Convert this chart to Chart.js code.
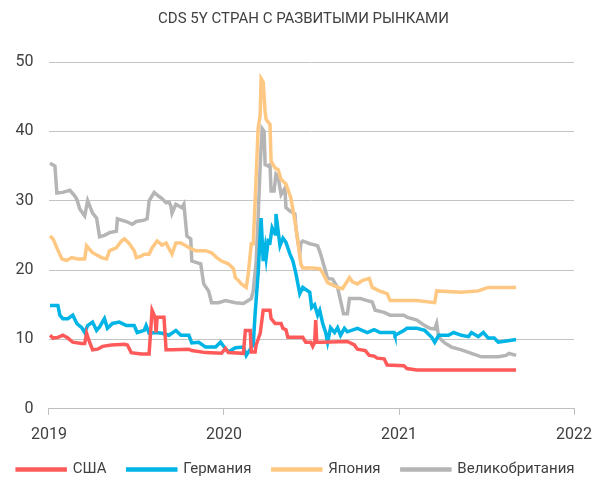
<!DOCTYPE html>
<html>
<head>
<meta charset="utf-8">
<script src="https://cdn.jsdelivr.net/npm/chart.js@4/dist/chart.umd.min.js"></script>
<style>
  html, body { margin: 0; padding: 0; background: #fff; overflow: hidden; }
  #wrap { width: 603px; height: 479px; overflow: hidden; }
</style>
</head>
<body>
<div id="wrap"><canvas id="chart" width="603" height="487"></canvas></div>
<script>
// values, x = decimal year
const seriesNames = ['США', 'Германия', 'Япония', 'Великобритания'];

const usa = [[2019.006,10.6],[2019.023,10.2],[2019.051,10.3],[2019.079,10.6],[2019.108,10.2],[2019.136,9.6],[2019.187,9.4],[2019.204,9.4],[2019.215,10.9],[2019.232,9.6],[2019.249,8.5],[2019.278,8.6],[2019.306,9.0],[2019.357,9.2],[2019.431,9.3],[2019.448,9.2],[2019.470,8.1],[2019.527,7.9],[2019.572,7.9],[2019.584,12.3],[2019.589,14.2],[2019.606,13.2],[2019.612,11.0],[2019.618,13.2],[2019.657,13.2],[2019.669,8.5],[2019.703,8.5],[2019.799,8.6],[2019.816,8.4],[2019.895,8.1],[2019.986,8.0],[2020.008,8.7],[2020.025,8.1],[2020.111,8.0],[2020.122,11.3],[2020.150,11.3],[2020.156,8.2],[2020.178,8.2],[2020.184,9.2],[2020.207,10.9],[2020.224,14.2],[2020.263,14.2],[2020.269,13.0],[2020.292,12.3],[2020.326,12.3],[2020.337,11.6],[2020.354,11.4],[2020.365,10.3],[2020.450,10.3],[2020.467,9.6],[2020.496,9.6],[2020.507,9.0],[2020.518,9.6],[2020.524,12.8],[2020.530,9.6],[2020.552,9.6],[2020.705,9.7],[2020.745,9.2],[2020.762,8.6],[2020.807,8.4],[2020.830,7.7],[2020.858,7.6],[2020.875,7.3],[2020.915,7.2],[2020.932,6.3],[2021.028,6.2],[2021.045,5.8],[2021.102,5.6],[2021.669,5.6]];

const germany = [[2019.006,14.9],[2019.051,14.9],[2019.062,13.5],[2019.079,13.0],[2019.108,13.0],[2019.136,13.5],[2019.159,12.3],[2019.187,11.7],[2019.204,11.0],[2019.221,12.0],[2019.249,12.5],[2019.272,11.3],[2019.289,11.8],[2019.317,13.0],[2019.334,11.6],[2019.363,12.3],[2019.402,12.5],[2019.442,12.0],[2019.487,12.0],[2019.504,11.0],[2019.544,11.3],[2019.555,12.0],[2019.572,10.9],[2019.612,11.0],[2019.646,10.9],[2019.686,10.6],[2019.725,11.3],[2019.754,10.6],[2019.799,10.6],[2019.816,9.5],[2019.856,9.6],[2019.895,8.9],[2019.952,8.9],[2019.980,9.6],[2020.008,8.7],[2020.025,8.2],[2020.065,8.8],[2020.111,8.9],[2020.127,7.7],[2020.150,8.6],[2020.167,9.2],[2020.178,13.8],[2020.195,19.5],[2020.212,27.5],[2020.224,21.3],[2020.235,23.2],[2020.241,21.8],[2020.252,24.2],[2020.263,24.0],[2020.275,26.1],[2020.292,25.2],[2020.297,28.1],[2020.320,23.5],[2020.337,24.6],[2020.354,24.0],[2020.377,22.3],[2020.394,21.3],[2020.411,19.5],[2020.433,16.6],[2020.450,17.5],[2020.467,17.2],[2020.490,16.8],[2020.501,14.6],[2020.518,15.0],[2020.535,13.5],[2020.547,14.2],[2020.564,12.3],[2020.581,11.0],[2020.592,9.6],[2020.609,11.7],[2020.632,11.0],[2020.649,11.7],[2020.666,10.6],[2020.688,11.6],[2020.705,11.1],[2020.762,11.6],[2020.819,11.0],[2020.858,11.4],[2020.892,11.0],[2020.972,11.0],[2020.977,10.6],[2021.028,11.3],[2021.045,11.6],[2021.102,11.6],[2021.147,11.3],[2021.187,10.3],[2021.204,9.6],[2021.227,10.6],[2021.283,10.6],[2021.312,11.0],[2021.357,10.6],[2021.397,10.4],[2021.414,11.0],[2021.453,10.4],[2021.482,11.0],[2021.510,10.2],[2021.544,10.2],[2021.567,9.6],[2021.623,9.8],[2021.669,10.0]];

const japan = [[2019.006,24.9],[2019.023,24.5],[2019.045,23.2],[2019.074,21.6],[2019.102,21.4],[2019.130,21.8],[2019.164,21.6],[2019.204,21.6],[2019.215,23.5],[2019.232,23.0],[2019.249,22.5],[2019.300,21.8],[2019.329,21.6],[2019.346,22.8],[2019.385,23.2],[2019.414,24.2],[2019.431,24.5],[2019.459,23.8],[2019.487,22.8],[2019.499,21.8],[2019.527,22.0],[2019.544,22.3],[2019.572,22.3],[2019.589,23.2],[2019.618,24.2],[2019.646,23.6],[2019.669,23.9],[2019.686,23.1],[2019.703,22.3],[2019.725,23.9],[2019.754,23.9],[2019.782,23.5],[2019.810,23.1],[2019.839,22.8],[2019.895,22.8],[2019.929,22.5],[2019.958,21.8],[2019.986,21.3],[2020.025,20.9],[2020.054,20.2],[2020.065,18.9],[2020.082,18.5],[2020.099,18.0],[2020.127,17.5],[2020.139,19.5],[2020.156,23.8],[2020.167,23.8],[2020.178,30.0],[2020.195,40.4],[2020.207,42.4],[2020.212,47.6],[2020.224,47.1],[2020.235,42.8],[2020.241,41.7],[2020.263,41.0],[2020.269,35.7],[2020.292,34.7],[2020.309,34.5],[2020.326,33.1],[2020.354,32.4],[2020.382,30.4],[2020.405,27.1],[2020.422,24.2],[2020.439,20.9],[2020.450,20.3],[2020.507,20.3],[2020.547,20.2],[2020.564,19.6],[2020.592,18.2],[2020.649,17.5],[2020.677,17.3],[2020.717,18.9],[2020.734,18.3],[2020.762,18.0],[2020.790,18.5],[2020.830,18.8],[2020.847,17.5],[2020.887,17.0],[2020.932,16.6],[2020.949,15.6],[2021.102,15.6],[2021.204,15.3],[2021.215,17.0],[2021.357,16.8],[2021.453,17.0],[2021.510,17.5],[2021.669,17.5]];

const uk = [[2019.006,35.4],[2019.034,35.0],[2019.045,31.1],[2019.079,31.2],[2019.119,31.5],[2019.147,30.7],[2019.159,30.2],[2019.176,28.8],[2019.204,27.8],[2019.221,30.0],[2019.232,29.3],[2019.249,28.2],[2019.272,27.5],[2019.289,24.8],[2019.317,25.0],[2019.346,25.4],[2019.385,25.6],[2019.391,27.4],[2019.442,27.0],[2019.476,26.6],[2019.499,27.0],[2019.544,27.2],[2019.561,27.4],[2019.572,30.0],[2019.601,31.2],[2019.629,30.6],[2019.646,30.3],[2019.669,29.7],[2019.686,29.8],[2019.697,29.2],[2019.703,28.2],[2019.725,29.5],[2019.759,29.0],[2019.771,29.5],[2019.788,24.9],[2019.810,24.5],[2019.816,21.3],[2019.867,20.9],[2019.884,18.0],[2019.912,17.0],[2019.929,15.3],[2019.969,15.3],[2020.008,15.6],[2020.065,15.3],[2020.111,15.2],[2020.156,15.9],[2020.167,17.0],[2020.184,21.3],[2020.195,27.5],[2020.207,35.2],[2020.218,40.4],[2020.229,40.0],[2020.235,35.2],[2020.252,35.0],[2020.263,35.2],[2020.269,31.4],[2020.286,31.4],[2020.297,33.8],[2020.309,33.5],[2020.326,30.9],[2020.348,31.8],[2020.354,29.0],[2020.377,28.5],[2020.405,28.1],[2020.411,26.1],[2020.433,22.3],[2020.439,23.9],[2020.450,24.2],[2020.490,23.8],[2020.507,23.7],[2020.535,23.5],[2020.552,22.3],[2020.575,20.3],[2020.592,18.8],[2020.620,18.7],[2020.649,17.5],[2020.666,15.6],[2020.683,13.7],[2020.705,13.7],[2020.717,15.9],[2020.779,15.9],[2020.819,15.6],[2020.847,15.4],[2020.864,14.2],[2020.915,13.9],[2020.949,13.5],[2021.028,13.5],[2021.045,13.2],[2021.102,12.8],[2021.147,12.0],[2021.176,11.6],[2021.204,11.5],[2021.215,12.3],[2021.227,10.3],[2021.261,9.5],[2021.300,8.9],[2021.357,8.5],[2021.414,8.0],[2021.470,7.5],[2021.567,7.5],[2021.612,7.7],[2021.629,8.0],[2021.669,7.7]];

const colors = ['#ff5a5a', '#00b4e6', '#ffc882', '#b5b5b5'];
const allSeries = [usa, germany, japan, uk];

Chart.defaults.font.family = 'Roboto, "Noto Sans", sans-serif';
Chart.defaults.color = '#404040';

const ctx = document.getElementById('chart').getContext('2d');
new Chart(ctx, {
  type: 'line',
  data: {
    datasets: allSeries.map((s, i) => ({
      label: seriesNames[i],
      data: s.map(p => ({ x: p[0], y: p[1] })),
      borderColor: colors[i],
      backgroundColor: colors[i],
      borderWidth: 3.5,
      pointRadius: 0,
      tension: 0,
      fill: false
    }))
  },
  options: {
    responsive: false,
    animation: false,
    layout: { padding: { left: 0, right: -4 } },
    plugins: {
      title: {
        display: true,
        text: 'CDS 5Y СТРАН С РАЗВИТЫМИ РЫНКАМИ',
        font: { size: 15, weight: 'normal' },
        color: '#404040',
        padding: { top: 10, bottom: 34 }
      },
      legend: {
        position: 'bottom',
        labels: {
          boxWidth: 48,
          boxHeight: 1,
          padding: 6,
          font: { size: 15 },
          // small vertical padding, so the gap between items comes from a trailing em space
          generateLabels: chart => Chart.defaults.plugins.legend.labels.generateLabels(chart)
            .map(item => ({ ...item, text: item.text + '\u2003' }))
        }
      },
      tooltip: { enabled: false }
    },
    scales: {
      x: {
        type: 'linear',
        min: 2019,
        max: 2022,
        ticks: {
          stepSize: 1,
          padding: 11,
          maxRotation: 0,
          callback: v => String(v),
          font: { size: 16 }
        },
        grid: { drawOnChartArea: false, tickLength: 6, color: '#bfbfbf' },
        border: { display: true, color: '#bfbfbf' }
      },
      y: {
        min: 0,
        max: 50,
        ticks: { stepSize: 10, padding: 15.5, font: { size: 16 } },
        grid: { color: '#c4c4c4', drawTicks: false },
        border: { display: false }
      }
    }
  }
});
</script>
</body>
</html>
